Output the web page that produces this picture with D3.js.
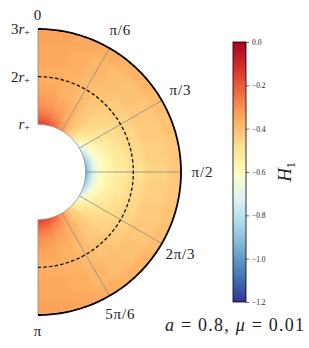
<!DOCTYPE html>
<html>
<head>
<meta charset="utf-8">
<script src="https://cdn.jsdelivr.net/npm/d3@7"></script>
<style>
  body { margin: 0; background: #fff; }
  #wrap { position: relative; width: 309px; height: 348px; }
  #wrap svg { position: absolute; left: 0; top: 0; display: block; }
  #field { filter: blur(2.5px); }
  text { font-family: "Liberation Serif", "DejaVu Serif", serif; fill: #222; }
</style>
</head>
<body>
<div id="wrap"></div>
<script>
// grid: radius in units of r+, angle in degrees from the top
const radii = [1, 1.05, 1.1, 1.2, 1.35, 1.5, 1.75, 2, 2.5, 3];
const angles = [0, 10, 20, 30, 40, 50, 60, 70, 80, 90, 100, 110, 120, 130, 140, 150, 160, 170, 180];
const H1 = [
  [-0.13, -0.16, -0.22, -0.32, -0.44, -0.57, -0.71, -0.85, -0.96, -1.01, -0.96, -0.85, -0.71, -0.57, -0.44, -0.32, -0.22, -0.16, -0.13],
  [-0.16, -0.19, -0.24, -0.33, -0.44, -0.55, -0.67, -0.78, -0.86, -0.89, -0.86, -0.78, -0.67, -0.55, -0.44, -0.33, -0.24, -0.19, -0.16],
  [-0.19, -0.21, -0.26, -0.34, -0.44, -0.53, -0.62, -0.71, -0.77, -0.79, -0.77, -0.71, -0.62, -0.53, -0.44, -0.34, -0.26, -0.21, -0.19],
  [-0.24, -0.26, -0.30, -0.36, -0.43, -0.50, -0.57, -0.62, -0.66, -0.68, -0.66, -0.62, -0.57, -0.50, -0.43, -0.36, -0.30, -0.26, -0.24],
  [-0.29, -0.30, -0.33, -0.37, -0.42, -0.47, -0.52, -0.56, -0.59, -0.60, -0.59, -0.56, -0.52, -0.47, -0.42, -0.37, -0.33, -0.30, -0.29],
  [-0.32, -0.33, -0.35, -0.38, -0.42, -0.46, -0.50, -0.53, -0.55, -0.56, -0.55, -0.53, -0.50, -0.46, -0.42, -0.38, -0.35, -0.33, -0.32],
  [-0.35, -0.35, -0.37, -0.39, -0.42, -0.45, -0.47, -0.49, -0.51, -0.52, -0.51, -0.49, -0.47, -0.45, -0.42, -0.39, -0.37, -0.35, -0.35],
  [-0.36, -0.36, -0.37, -0.39, -0.41, -0.43, -0.45, -0.46, -0.47, -0.48, -0.47, -0.46, -0.45, -0.43, -0.41, -0.39, -0.37, -0.36, -0.36],
  [-0.35, -0.35, -0.36, -0.38, -0.40, -0.41, -0.42, -0.43, -0.44, -0.45, -0.44, -0.43, -0.42, -0.41, -0.40, -0.38, -0.36, -0.35, -0.35],
  [-0.34, -0.34, -0.35, -0.36, -0.37, -0.38, -0.40, -0.41, -0.42, -0.42, -0.42, -0.41, -0.40, -0.38, -0.37, -0.36, -0.35, -0.34, -0.34]
];
const spokeAngles = [0, 30, 60, 90, 120, 150, 180];
const angleLabels = ["0", "π/6", "π/3", "π/2", "2π/3", "5π/6", "π"];
const radiusTicks = [3, 2, 1];
const radiusLabels = ["3", "2", ""]; // number in front of r+
const cbarTicks = [0, -0.2, -0.4, -0.6, -0.8, -1.0, -1.2];
// RdYlBu table, linear between entries
const rdylbu = ["#a50026", "#d73027", "#f46d43", "#fdae61", "#fee090", "#ffffbf",
                "#e0f3f8", "#abd9e9", "#74add1", "#4575b4", "#313695"];

const W = 309, H = 348;
const cx = 38, cy = 172;
const rad = d => d * Math.PI / 180;

const r = d3.scaleLinear().domain([0, 3]).range([0, 143]);
const color = d3.scaleLinear()
  .domain(rdylbu.map((c, i) => -1.2 * i / (rdylbu.length - 1)))
  .range(rdylbu)
  .interpolate(d3.interpolateRgb)
  .clamp(true);

const wrap = d3.select("#wrap");

// field layer, softened with a css blur
const fsvg = wrap.append("svg").attr("id", "field")
  .attr("width", W).attr("height", H);

const rEdges = radii.map((d, i) => [
  i === 0 ? d - 0.2 : (d + radii[i - 1]) / 2,
  i === radii.length - 1 ? d + 0.3 : (d + radii[i + 1]) / 2
]);
const cells = [];
radii.forEach((rr, i) => angles.forEach((a, j) => {
  cells.push({r0: rEdges[i][0], r1: rEdges[i][1], a0: a - 5, a1: a + 5, v: H1[i][j]});
}));

const arc = d3.arc();
fsvg.append("g").attr("transform", `translate(${cx},${cy})`)
  .selectAll("path").data(cells).enter().append("path")
  .attr("d", d => arc({innerRadius: r(d.r0), outerRadius: r(d.r1), startAngle: rad(d.a0), endAngle: rad(d.a1)}))
  .attr("fill", d => color(d.v))
  .attr("stroke", d => color(d.v)).attr("stroke-width", 1);

// everything else on top
const svg = wrap.append("svg").attr("width", W).attr("height", H);
const defs = svg.append("defs");
const g = svg.append("g").attr("transform", `translate(${cx},${cy})`);

// white covers outside the half annulus
g.append("path")
  .attr("d", d3.arc()({innerRadius: 0, outerRadius: r(1), startAngle: 0, endAngle: 2 * Math.PI}))
  .attr("fill", "#fff");
g.append("path")
  .attr("d", d3.arc()({innerRadius: r(3), outerRadius: r(3.8), startAngle: 0, endAngle: 2 * Math.PI}))
  .attr("fill", "#fff");
g.append("rect").attr("x", -cx).attr("y", -r(3.8)).attr("width", cx).attr("height", 2 * r(3.8))
  .attr("fill", "#fff");

// spokes
g.selectAll(".spoke").data(spokeAngles).enter().append("line")
  .attr("x1", d => r(1) * Math.sin(rad(d))).attr("y1", d => -r(1) * Math.cos(rad(d)))
  .attr("x2", d => r(3) * Math.sin(rad(d))).attr("y2", d => -r(3) * Math.cos(rad(d)))
  .attr("stroke", "#8a8a8a").attr("stroke-width", 0.8);

// inner edge
g.append("path")
  .attr("d", d3.lineRadial().angle(d => rad(d)).radius(() => r(1))(d3.range(0, 181, 2)))
  .attr("fill", "none").attr("stroke", "#8a8a8a").attr("stroke-width", 0.8);

// dashed circle at 2 r+
g.append("path")
  .attr("d", d3.lineRadial().angle(d => rad(d)).radius(() => r(2))(d3.range(0, 181, 2)))
  .attr("fill", "none").attr("stroke", "#111").attr("stroke-width", 1.3)
  .attr("stroke-dasharray", "3.5,2.2");

// outer spine
g.append("path")
  .attr("d", d3.lineRadial().angle(d => rad(d)).radius(() => r(3))(d3.range(0, 181, 1)))
  .attr("fill", "none").attr("stroke", "#000").attr("stroke-width", 1.8);

// angle labels
const labR = [3.3, 3.45, 3.45, 3.45, 3.45, 3.45, 3.33];
g.selectAll(".al").data(spokeAngles).enter().append("text")
  .attr("x", (d, i) => r(labR[i]) * Math.sin(rad(d)))
  .attr("y", (d, i) => -r(labR[i]) * Math.cos(rad(d)))
  .attr("text-anchor", "middle").attr("dominant-baseline", "central")
  .attr("font-size", 15).attr("letter-spacing", 0.8)
  .text((d, i) => angleLabels[i]);

// radius labels
radiusTicks.forEach((t, i) => {
  const tx = g.append("text")
    .attr("x", -8).attr("y", -r(t))
    .attr("text-anchor", "end").attr("dominant-baseline", "central")
    .attr("font-size", 15);
  if (radiusLabels[i]) tx.append("tspan").text(radiusLabels[i]);
  tx.append("tspan").attr("font-style", "italic").text("r");
  tx.append("tspan").attr("font-size", 10).attr("dy", 3).text("+");
});

// colorbar
const cb = {x: 233, y: 42, w: 13, h: 260};
const cby = d3.scaleLinear().domain([0, -1.2]).range([cb.y, cb.y + cb.h]);
const grad = defs.append("linearGradient").attr("id", "cbg")
  .attr("x1", 0).attr("y1", 0).attr("x2", 0).attr("y2", 1);
rdylbu.forEach((c, i) => {
  grad.append("stop").attr("offset", i / (rdylbu.length - 1)).attr("stop-color", c);
});
svg.append("rect").attr("x", cb.x).attr("y", cb.y).attr("width", cb.w).attr("height", cb.h)
  .attr("fill", "url(#cbg)").attr("stroke", "#000").attr("stroke-width", 0.8);
const axis = d3.axisRight(cby).tickValues(cbarTicks).tickSize(3).tickPadding(3)
  .tickFormat(d => d3.format(".1f")(d).replace("-", "−"));
svg.append("g").attr("transform", `translate(${cb.x + cb.w},0)`).call(axis)
  .call(a => a.select(".domain").remove())
  .call(a => a.selectAll("text").attr("font-size", 7.5).attr("font-family", "Liberation Serif, serif").attr("fill", "#222"))
  .call(a => a.selectAll("line").attr("stroke", "#222").attr("stroke-width", 0.7));

const hl = svg.append("text")
  .attr("transform", `translate(291,${cb.y + cb.h / 2}) rotate(-90)`)
  .attr("text-anchor", "middle").attr("font-size", 19);
hl.append("tspan").attr("font-style", "italic").text("H");
hl.append("tspan").attr("font-size", 12).attr("dy", 4).text("1");

// parameters
const pt = svg.append("text").attr("x", 165).attr("y", 331)
  .attr("font-size", 18).attr("textLength", 139).attr("lengthAdjust", "spacing");
pt.append("tspan").attr("font-style", "italic").text("a");
pt.append("tspan").text(" = 0.8, ");
pt.append("tspan").attr("font-style", "italic").text("μ");
pt.append("tspan").text(" = 0.01");
</script>
</body>
</html>
